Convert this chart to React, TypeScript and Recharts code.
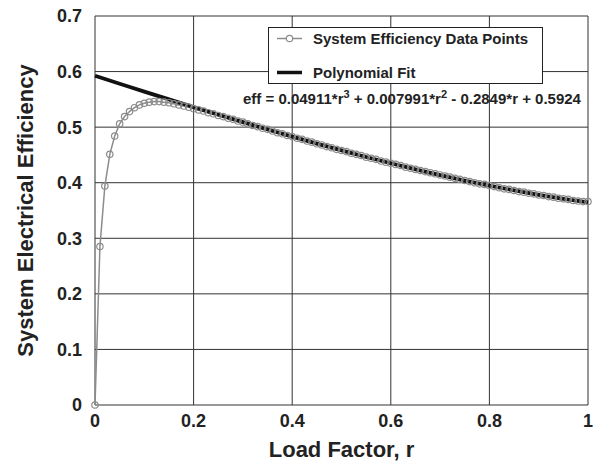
import React from "react";
import { LineChart, Line, XAxis, YAxis, CartesianGrid, Legend } from "recharts";

// Load factor samples for the measured efficiency curve
const loadFactor = [
  0, 0.01, 0.02, 0.03, 0.04, 0.05, 0.06, 0.07, 0.08, 0.09,
  0.1, 0.11, 0.12, 0.13, 0.14, 0.15, 0.16, 0.17, 0.18, 0.19,
  0.2, 0.21, 0.22, 0.23, 0.24, 0.25, 0.26, 0.27, 0.28, 0.29,
  0.3, 0.31, 0.32, 0.33, 0.34, 0.35, 0.36, 0.37, 0.38, 0.39,
  0.4, 0.41, 0.42, 0.43, 0.44, 0.45, 0.46, 0.47, 0.48, 0.49,
  0.5, 0.51, 0.52, 0.53, 0.54, 0.55, 0.56, 0.57, 0.58, 0.59,
  0.6, 0.61, 0.62, 0.63, 0.64, 0.65, 0.66, 0.67, 0.68, 0.69,
  0.7, 0.71, 0.72, 0.73, 0.74, 0.75, 0.76, 0.77, 0.78, 0.79,
  0.8, 0.81, 0.82, 0.83, 0.84, 0.85, 0.86, 0.87, 0.88, 0.89,
  0.9, 0.91, 0.92, 0.93, 0.94, 0.95, 0.96, 0.97, 0.98, 0.99,
  1,
];

const efficiency = [
  0, 0.285, 0.394, 0.451, 0.484, 0.506, 0.519, 0.528, 0.535, 0.54,
  0.543, 0.545, 0.546, 0.546, 0.545, 0.544, 0.542, 0.54, 0.538, 0.536,
  0.533, 0.531, 0.529, 0.526, 0.524, 0.521, 0.519, 0.516, 0.514, 0.511,
  0.509, 0.506, 0.503, 0.501, 0.498, 0.496, 0.493, 0.49, 0.488, 0.485,
  0.483, 0.48, 0.478, 0.475, 0.473, 0.47, 0.468, 0.465, 0.463, 0.46,
  0.458, 0.456, 0.453, 0.451, 0.449, 0.446, 0.444, 0.442, 0.439, 0.437,
  0.435, 0.433, 0.431, 0.428, 0.426, 0.424, 0.422, 0.42, 0.418, 0.416,
  0.414, 0.412, 0.41, 0.408, 0.406, 0.404, 0.402, 0.4, 0.398, 0.397,
  0.395, 0.393, 0.391, 0.389, 0.388, 0.386, 0.384, 0.383, 0.381, 0.38,
  0.378, 0.377, 0.375, 0.374, 0.372, 0.371, 0.37, 0.368, 0.367, 0.366,
  0.366,
];

// Cubic fit evaluated every 0.05
const fitLoadFactor = [
  0, 0.05, 0.1, 0.15, 0.2, 0.25, 0.3, 0.35, 0.4, 0.45, 0.5,
  0.55, 0.6, 0.65, 0.7, 0.75, 0.8, 0.85, 0.9, 0.95, 1,
];
const fitEfficiency = [
  0.5924, 0.5782, 0.564, 0.55, 0.5361, 0.5224, 0.509, 0.4958, 0.4829, 0.4703, 0.4581,
  0.4463, 0.435, 0.4241, 0.4137, 0.4039, 0.3947, 0.3862, 0.3783, 0.3711, 0.3646,
];

const xTicks = [0, 0.2, 0.4, 0.6, 0.8, 1];
const yTicks = [0, 0.1, 0.2, 0.3, 0.4, 0.5, 0.6, 0.7];

const points = loadFactor.map((r, i) => ({ r, eff: efficiency[i] }));
const fit = fitLoadFactor.map((r, i) => ({ r, fit: fitEfficiency[i] }));

const FONT = "'Liberation Sans', Arial, Helvetica, sans-serif";
const INK = "#222";
const POINT_GREY = "#8c8c8c";

function LegendBox() {
  return (
    <svg width={594} height={120} style={{ display: "block" }}>
      <g fontFamily={FONT} fontWeight="bold" fill={INK}>
        <rect x={268.5} y={27.5} width={274} height={56} fill="#fff" stroke="#222" strokeWidth={1} />
        <line x1={277} y1={38.5} x2={302} y2={38.5} stroke={POINT_GREY} strokeWidth={1.5} />
        <circle cx={289.5} cy={38.5} r={3.2} fill="#fff" stroke={POINT_GREY} strokeWidth={1.2} />
        <text x={313} y={38.5} fontSize={15} dominantBaseline="central">
          System Efficiency Data Points
        </text>
        <line x1={277} y1={72.5} x2={302} y2={72.5} stroke="#111" strokeWidth={3.5} />
        <text x={313} y={72.5} fontSize={15} dominantBaseline="central">
          Polynomial Fit
        </text>
        <text x={243} y={104} fontSize={15}>
          eff = 0.04911*r<tspan dy={-6} fontSize={11}>3</tspan>
          <tspan dy={6}> + 0.007991*r</tspan>
          <tspan dy={-6} fontSize={11}>2</tspan>
          <tspan dy={6}> - 0.2849*r + 0.5924</tspan>
        </text>
      </g>
    </svg>
  );
}

export default function App() {
  return (
    <div style={{ position: "absolute", left: 0, top: 0, width: 594, height: 469, background: "#fff" }}>
      <LineChart width={594} height={469} margin={{ top: 16, right: 6, bottom: 0, left: 0 }}>
        <CartesianGrid stroke="#333" strokeWidth={1} />
        <XAxis
          dataKey="r"
          type="number"
          domain={[0, 1]}
          ticks={xTicks}
          tickFormatter={(v) => String(v)}
          axisLine={false}
          tickLine={false}
          tickSize={0}
          tickMargin={9}
          height={64}
          allowDuplicatedCategory={false}
          tick={{ fill: INK, fontSize: 18, fontWeight: "bold", fontFamily: FONT }}
          label={{
            value: "Load Factor, r",
            position: "insideBottom",
            offset: 12,
            fill: INK,
            fontSize: 22,
            fontWeight: "bold",
            fontFamily: FONT,
          }}
        />
        <YAxis
          type="number"
          domain={[0, 0.7]}
          ticks={yTicks}
          tickFormatter={(v) => String(v)}
          axisLine={false}
          tickLine={false}
          tickSize={0}
          tickMargin={13}
          width={95}
          tick={{ fill: INK, fontSize: 18, fontWeight: "bold", fontFamily: FONT }}
          label={{
            value: "System Electrical Efficiency",
            angle: -90,
            position: "insideLeft",
            offset: 25,
            style: { textAnchor: "middle" },
            fill: INK,
            fontSize: 22,
            fontWeight: "bold",
            fontFamily: FONT,
          }}
        />
        <Line
          data={points}
          dataKey="eff"
          type="linear"
          stroke={POINT_GREY}
          strokeWidth={1.5}
          dot={{ r: 3.2, fill: "none", stroke: POINT_GREY, strokeWidth: 1.2 }}
          isAnimationActive={false}
        />
        <Line
          data={fit}
          dataKey="fit"
          type="monotone"
          stroke="#111"
          strokeWidth={3.8}
          dot={false}
          isAnimationActive={false}
        />
        <Legend
          layout="horizontal"
          verticalAlign="middle"
          align="center"
          wrapperStyle={{ position: "absolute", left: 0, top: 0, width: 594, height: 120, pointerEvents: "none" }}
          content={() => <LegendBox />}
        />
      </LineChart>
    </div>
  );
}
